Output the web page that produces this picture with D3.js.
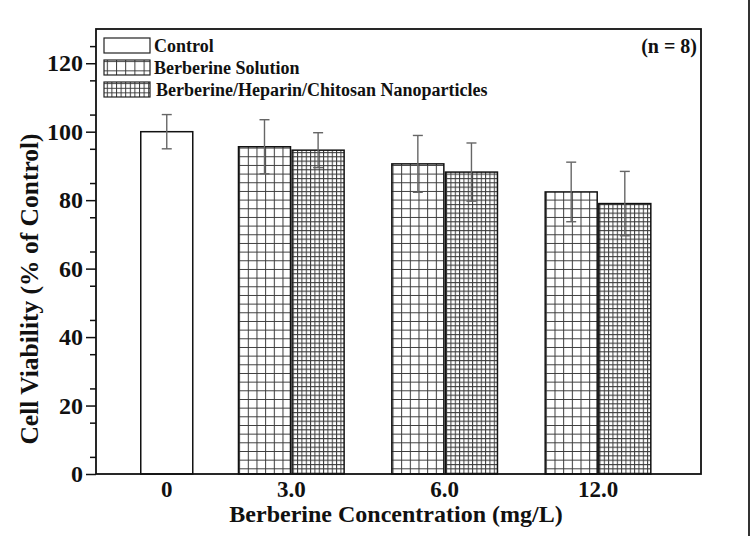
<!DOCTYPE html>
<html>
<head>
<meta charset="utf-8">
<script src="https://cdn.jsdelivr.net/npm/d3@7"></script>
<style>
  body { margin: 0; background: #fff; }
  text { font-family: "Liberation Serif", "Times New Roman", serif; font-weight: bold; fill: #111; }
</style>
</head>
<body>
<div id="chart"></div>
<script>
// concentration groups (mg/L)
var groups = ["0", "3.0", "6.0", "12.0"];
var seriesNames = ["Control", "Berberine Solution", "Berberine/Heparin/Chitosan Nanoparticles"];

// mean cell viability (% of control) and SD
var controlValues  = [100.0, null, null, null];
var controlErrors  = [5.0, null, null, null];
var solutionValues = [null, 95.6, 90.6, 82.4];
var solutionErrors = [null, 7.9, 8.3, 8.7];
var nanoValues     = [null, 94.6, 88.2, 79.0];
var nanoErrors     = [null, 5.1, 8.5, 9.4];

var yTicks = [0, 20, 40, 60, 80, 100, 120];

var W = 751, H = 536;
var margin = { top: 29, right: 50, bottom: 62, left: 96 };
var width = W - margin.left - margin.right;
var height = H - margin.top - margin.bottom;

var svg = d3.select("#chart").append("svg")
    .attr("width", W)
    .attr("height", H);

var defs = svg.append("defs");
var g = svg.append("g")
    .attr("transform", "translate(" + margin.left + "," + margin.top + ")");

// scales
var y = d3.scaleLinear().domain([0, 130]).range([height, 0]);

var step = 153.35;
var x = d3.scaleBand()
    .domain(groups)
    .range([41.95 - step / 2, 41.95 + step * 3.5])
    .paddingInner(0).paddingOuter(0);

// two slots per group; the control bar sits in the right slot of group 0
var slot = d3.scaleBand()
    .domain(["left", "right"])
    .range([0, x.bandwidth()])
    .paddingInner(0.03)
    .paddingOuter(0.445);

var series = [
    { name: seriesNames[0], values: controlValues, errors: controlErrors, slot: "right", grid: 0 },
    { name: seriesNames[1], values: solutionValues, errors: solutionErrors, slot: "left", grid: 6 },
    { name: seriesNames[2], values: nanoValues, errors: nanoErrors, slot: "right", grid: 12 }
];

var bars = [];
series.forEach(function(s, si) {
    s.values.forEach(function(v, i) {
        if (v === null) return;
        bars.push({ series: si, group: groups[i], value: v, error: s.errors[i], slot: s.slot, grid: s.grid });
    });
});

bars.forEach(function(d, i) {
    d.x = x(d.group) + slot(d.slot) + (d.series === 0 ? 2 : 0);
    d.w = slot.bandwidth();
    d.id = "pat" + i;
});

// grid hatch patterns, one per bar so the cells line up with the bar edges
function addGrid(id, x0, y0, cell) {
    var p = defs.append("pattern")
        .attr("id", id)
        .attr("patternUnits", "userSpaceOnUse")
        .attr("x", x0).attr("y", y0)
        .attr("width", cell).attr("height", cell);
    p.append("rect").attr("width", cell).attr("height", cell).attr("fill", "#fff");
    p.append("path")
        .attr("d", "M0,0.5H" + cell + "M0.5,0V" + cell)
        .attr("stroke", "#3a3a3a")
        .attr("stroke-width", 1)
        .attr("fill", "none");
}

bars.forEach(function(d) {
    if (d.grid) addGrid(d.id, d.x + margin.left, y(0) + margin.top, d.w / d.grid);
});

// bars
g.append("g").attr("class", "bars")
    .selectAll("rect")
    .data(bars)
    .enter().append("rect")
    .attr("x", function(d) { return d.x; })
    .attr("y", function(d) { return y(d.value); })
    .attr("width", function(d) { return d.w; })
    .attr("height", function(d) { return y(0) - y(d.value); })
    .attr("fill", function(d) { return d.grid ? "url(#" + d.id + ")" : "#fff"; })
    .attr("stroke", "#111")
    .attr("stroke-width", 1.5);

// error bars
var err = g.append("g").attr("class", "errors")
    .selectAll("g")
    .data(bars)
    .enter().append("g")
    .attr("stroke", "#666")
    .attr("stroke-width", 1.4);

err.append("line")
    .attr("x1", function(d) { return d.x + d.w / 2; })
    .attr("x2", function(d) { return d.x + d.w / 2; })
    .attr("y1", function(d) { return y(d.value + d.error); })
    .attr("y2", function(d) { return y(d.value - d.error); });

[1, -1].forEach(function(sign) {
    err.append("line")
        .attr("x1", function(d) { return d.x + d.w / 2 - 5; })
        .attr("x2", function(d) { return d.x + d.w / 2 + 5; })
        .attr("y1", function(d) { return y(d.value + sign * d.error); })
        .attr("y2", function(d) { return y(d.value + sign * d.error); });
});

// y axis: major ticks with labels, minor every 5
var yAxis = g.append("g")
    .call(d3.axisLeft(y).tickValues(yTicks).tickSize(10).tickPadding(3).tickFormat(d3.format("d")));
yAxis.select(".domain").remove();
yAxis.selectAll("line").attr("stroke", "#111").attr("stroke-width", 1.5);
yAxis.selectAll("text")
    .style("font-size", "24px")
    .style("font-family", "Liberation Serif")
    .attr("fill", "#111");

var yMinor = g.append("g")
    .call(d3.axisLeft(y).tickValues(d3.range(5, 130, 10)).tickSize(6).tickFormat(""));
yMinor.select(".domain").remove();
yMinor.selectAll("line").attr("stroke", "#111").attr("stroke-width", 1.5);

// x tick labels under the centre of the bars of each group
var labelPos = groups.map(function(gr) {
    var b = bars.filter(function(d) { return d.group === gr; });
    var lo = d3.min(b, function(d) { return d.x; });
    var hi = d3.max(b, function(d) { return d.x + d.w; });
    return { label: gr, cx: (lo + hi) / 2 };
});

g.append("g").selectAll("text")
    .data(labelPos)
    .enter().append("text")
    .attr("x", function(d) { return d.cx; })
    .attr("y", height + 23)
    .attr("text-anchor", "middle")
    .style("font-size", "23px")
    .text(function(d) { return d.label; });

// frame
g.append("rect")
    .attr("width", width)
    .attr("height", height)
    .attr("fill", "none")
    .attr("stroke", "#111")
    .attr("stroke-width", 1.8);

// axis titles
g.append("text")
    .attr("x", 300)
    .attr("y", height + 48)
    .attr("text-anchor", "middle")
    .style("font-size", "24px")
    .text("Berberine Concentration (mg/L)");

g.append("text")
    .attr("transform", "translate(" + (-58) + "," + (260) + ") rotate(-90)")
    .attr("text-anchor", "middle")
    .style("font-size", "25.5px")
    .text("Cell Viability (% of Control)");

// legend
var legendRows = [
    { name: seriesNames[0], grid: 0 },
    { name: seriesNames[1], grid: 5 },
    { name: seriesNames[2], grid: 10 }
];
var legend = g.append("g").attr("transform", "translate(8,9)");
legendRows.forEach(function(r, i) {
    var ly = i * 22;
    var id = "leg" + i;
    if (r.grid) addGrid(id, margin.left + 8, margin.top + 9 + ly, 46 / r.grid);
    legend.append("rect")
        .attr("x", 0).attr("y", ly)
        .attr("width", 46).attr("height", 15)
        .attr("fill", r.grid ? "url(#" + id + ")" : "#fff")
        .attr("stroke", "#222")
        .attr("stroke-width", 1.2);
    legend.append("text")
        .attr("x", 50 + (i === 2 ? 2 : 0))
        .attr("y", ly + 14)
        .style("font-size", "18px")
        .text(r.name);
});

g.append("text")
    .attr("x", width - 4)
    .attr("y", 24)
    .attr("text-anchor", "end")
    .style("font-size", "20px")
    .text("(n = 8)");

// right border of the figure
svg.append("line")
    .attr("x1", 749).attr("x2", 749)
    .attr("y1", 0).attr("y2", H)
    .attr("stroke", "#333")
    .attr("stroke-width", 2);
</script>
</body>
</html>
